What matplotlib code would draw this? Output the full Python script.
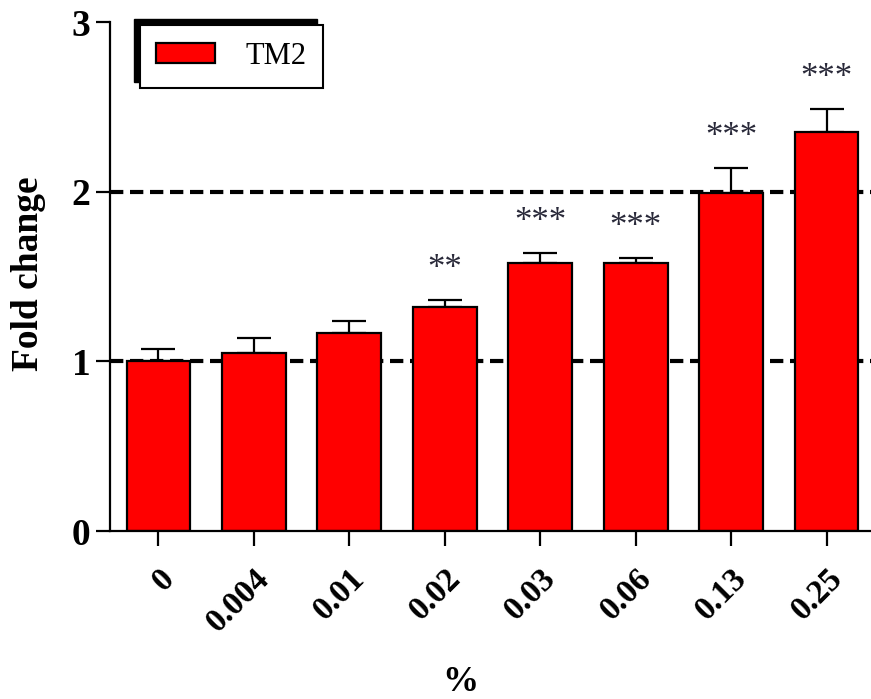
import numpy as np
import matplotlib
matplotlib.use('Agg')
import matplotlib.pyplot as plt
from matplotlib.patches import Rectangle
from matplotlib.transforms import IdentityTransform

# datos
etiquetas = ['0', '0.004', '0.01', '0.02', '0.03', '0.06', '0.13', '0.25']
medias = [1.00, 1.05, 1.17, 1.32, 1.58, 1.58, 1.99, 2.35]
errores = [0.07, 0.09, 0.07, 0.04, 0.06, 0.03, 0.15, 0.14]
estrellas = ['', '', '', '**', '***', '***', '***', '***']
lineas_ref = [1, 2]
serie = 'TM2'

plt.rcParams['font.family'] = ['Liberation Serif', 'DejaVu Serif']

fig = plt.figure(figsize=(8.71, 6.99), dpi=100)
ax = fig.add_axes([0.1263, 0.2403, 0.8737, 0.7282])

x = np.arange(len(etiquetas))

for y in lineas_ref:
    ax.axhline(y, color='black', lw=3, ls=(0, (3.2, 1.6)), zorder=0.5)

ax.bar(x, medias, width=0.67, color='#ff0000', edgecolor='black',
       linewidth=1.6, label=serie, zorder=2)
ax.errorbar(x, medias, yerr=[np.zeros(len(medias)), errores], fmt='none',
            ecolor='black', elinewidth=1.6, capsize=12, capthick=1.6, zorder=1.5)

for xi, m, e, s in zip(x, medias, errores, estrellas):
    if s:
        ax.text(xi, m + e + 0.18, s, ha='center', va='center', fontsize=25,
                color='#2a2a3a')

ax.set_xlim(-0.508, 7.466)
ax.set_ylim(0, 3)
ax.set_yticks([0, 1, 2, 3])
ax.set_xticks(x)
# va='top' con rotacion anclada desplaza el texto un poco a la derecha
ax.set_xticklabels(etiquetas, rotation=45, ha='right', va='top',
                   rotation_mode='anchor', fontsize=24, fontweight='bold')
for lab in ax.get_yticklabels():
    lab.set_fontsize(27)
    lab.set_fontweight('bold')

ax.tick_params(axis='y', length=10, width=1.6, pad=4)
ax.tick_params(axis='x', length=11, width=1.6, pad=12)
for lado in ['top', 'right']:
    ax.spines[lado].set_visible(False)
for lado in ['left', 'bottom']:
    ax.spines[lado].set_linewidth(1.6)

ax.set_ylabel('Fold change', fontsize=27, fontweight='bold')
ax.yaxis.set_label_coords(-0.084, 0.505)
ax.set_xlabel('%', fontsize=26, fontweight='bold')
ax.xaxis.set_label_coords(0.46, -0.265)

leg = ax.legend(loc='upper left', bbox_to_anchor=(0.039, 0.994),
                borderaxespad=0, fontsize=22, frameon=True, fancybox=False,
                framealpha=1, facecolor='white',
                handlelength=1.9, handleheight=0.6, handletextpad=1.0,
                borderpad=0.55)
leg.get_frame().set_edgecolor('black')
leg.get_frame().set_linewidth(1.5)
leg.set_zorder(5)

# sombra del recuadro de la leyenda (hacia arriba a la izquierda)
fig.canvas.draw()
bb = leg.get_window_extent()
sombra = Rectangle((bb.x0 - 6, bb.y0 + 6), bb.width, bb.height,
                   facecolor='black', edgecolor='black',
                   transform=IdentityTransform(), clip_on=False, zorder=4.5)
ax.add_patch(sombra)

fig.savefig('out.png', dpi=100)
